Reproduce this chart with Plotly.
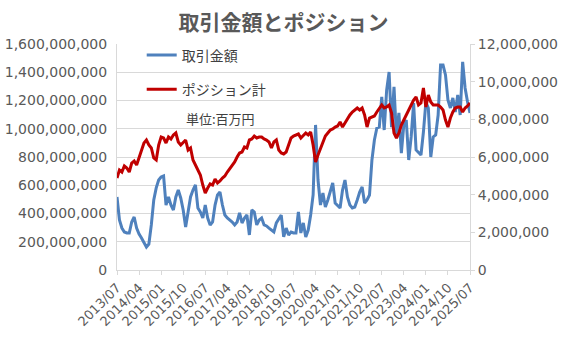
import plotly.graph_objects as go

# Monthly categories 2013/07 .. 2025/07
months = []
y, m = 2013, 7
while (y, m) <= (2025, 7):
    months.append(f"{y}/{m:02d}")
    m += 1
    if m > 12:
        y, m = y + 1, 1

tick_labels = months[::9]

# 取引金額 (millions)
trade_amount_m = [
    517, 354, 297, 269, 262, 262, 340, 375, 297, 255, 227, 191, 163, 184, 319, 496,
    581, 637, 658, 666, 460, 517, 460, 425, 517, 566, 510, 425, 304, 411, 517, 566,
    602, 439, 411, 368, 460, 368, 319, 340, 460, 531, 552, 460, 389, 368, 354, 340,
    319, 340, 404, 333, 368, 389, 248, 425, 411, 319, 354, 368, 319, 312, 297, 283,
    269, 333, 361, 389, 234, 297, 248, 269, 262, 262, 411, 262, 333, 234, 283, 389,
    531, 1027, 637, 460, 545, 446, 496, 552, 616, 474, 453, 439, 566, 637, 517, 460,
    439, 446, 496, 552, 588, 474, 496, 531, 779, 920, 1005, 1012, 1225, 991, 1274, 1402,
    1012, 1296, 942, 1112, 828, 1027, 1062, 779, 942, 1182, 850, 835, 814, 977, 1189, 1147,
    800, 942, 956, 1097, 1451, 1451, 1381, 1204, 1147, 1218, 1119, 1239, 1097, 1473, 1289, 1189,
    1112,
]

# ポジション計 (thousands)
position_k = [
    4885, 5310, 5204, 5522, 5416, 5204, 5682, 5788, 5576, 5947, 6372, 6744, 6903, 6638, 6478, 5947,
    5841, 6638, 7062, 7009, 6744, 7062, 6956, 7169, 7275, 6797, 6638, 6797, 6903, 6372, 6478, 5841,
    5576, 5310, 5045, 4514, 4089, 4354, 4567, 4514, 4832, 4620, 4726, 4885, 4991, 5204, 5363, 5576,
    5735, 6000, 6213, 6266, 6531, 6478, 6903, 6956, 7115, 7009, 7062, 7062, 6956, 6903, 6797, 6478,
    6797, 6903, 6372, 6213, 6160, 6266, 6638, 7009, 7115, 7169, 7222, 7009, 7169, 7275, 7169, 7328,
    6638, 5735, 6107, 6425, 6744, 7115, 7275, 7434, 7487, 7593, 7646, 7859, 7593, 7806, 8071, 8231,
    8390, 8496, 8602, 8496, 8602, 8231, 7593, 8071, 8124, 8177, 8390, 8602, 8762, 8602, 8655, 8762,
    8337, 7275, 7009, 7275, 7700, 7965, 8231, 8496, 8815, 9027, 9186, 8762, 8868, 9664, 8655, 9293,
    8921, 8762, 8762, 8762, 8655, 8496, 7965, 7593, 8071, 8390, 8602, 8655, 8655, 8390, 8602, 8708,
    8868,
]

trade_amount = [v * 1_000_000 for v in trade_amount_m]
position = [v * 1_000 for v in position_k]

GRAY = "#595959"
GRID = "#D9D9D9"
TICKFONT = dict(family="DejaVu Sans", size=14, color=GRAY)
CJK = "Noto Sans CJK JP"

fig = go.Figure()
fig.add_trace(go.Scatter(
    x=months, y=trade_amount, name="取引金額", mode="lines",
    line=dict(color="#4F81BD", width=3), yaxis="y", legendgroup="a",
))
fig.add_trace(go.Scatter(
    x=months, y=position, name="ポジション計", mode="lines",
    line=dict(color="#C00000", width=3), yaxis="y2", legendgroup="b",
))

fig.update_layout(
    width=567, height=339,
    margin=dict(l=117, r=97, t=44, b=69, autoexpand=False),
    paper_bgcolor="white", plot_bgcolor="white",
    title=dict(text="<b>取引金額とポジション</b>", x=0.5, xref="container", xanchor="center",
               y=1 - 23 / 339, yanchor="middle", yref="container",
               font=dict(family=CJK, size=21, color=GRAY)),
    xaxis=dict(
        type="category", categoryorder="array", categoryarray=months,
        range=[0, len(months) - 1], automargin=False,
        tickmode="array", tickvals=tick_labels, ticktext=tick_labels,
        tickangle=-45, tickfont=dict(family="DejaVu Sans", size=13, color=GRAY),
        showgrid=False, showline=True, linecolor=GRID, linewidth=1,
        ticks="outside", ticklen=4, tickcolor=GRID, zeroline=False,
    ),
    yaxis=dict(
        range=[0, 1_600_000_000], dtick=200_000_000, tickformat=",d", automargin=False,
        tickfont=TICKFONT, showgrid=True, gridcolor=GRID, gridwidth=1,
        showline=True, linecolor=GRID, zeroline=False, ticks="", ticklabelstandoff=6,
    ),
    yaxis2=dict(
        range=[0, 12_000_000], dtick=2_000_000, tickformat=",d", automargin=False,
        tickfont=TICKFONT, overlaying="y", side="right", showgrid=False,
        showline=True, linecolor=GRID, zeroline=False,
        ticks="outside", ticklen=4, tickcolor=GRID,
    ),
    showlegend=True,
    legend=dict(
        x=0.07, y=1.02, xanchor="left", yanchor="top",
        bgcolor="rgba(0,0,0,0)", traceorder="grouped", tracegroupgap=13,
        font=dict(family=CJK, size=14, color="#404040"),
    ),
    annotations=[dict(
        text="単位:百万円", x=(220 - 117) / 353, y=(270 - 119) / 226,
        xref="paper", yref="paper", xanchor="center", yanchor="middle", showarrow=False,
        font=dict(family=CJK, size=13, color="#404040"),
    )],
)

fig.write_html("out.html")
